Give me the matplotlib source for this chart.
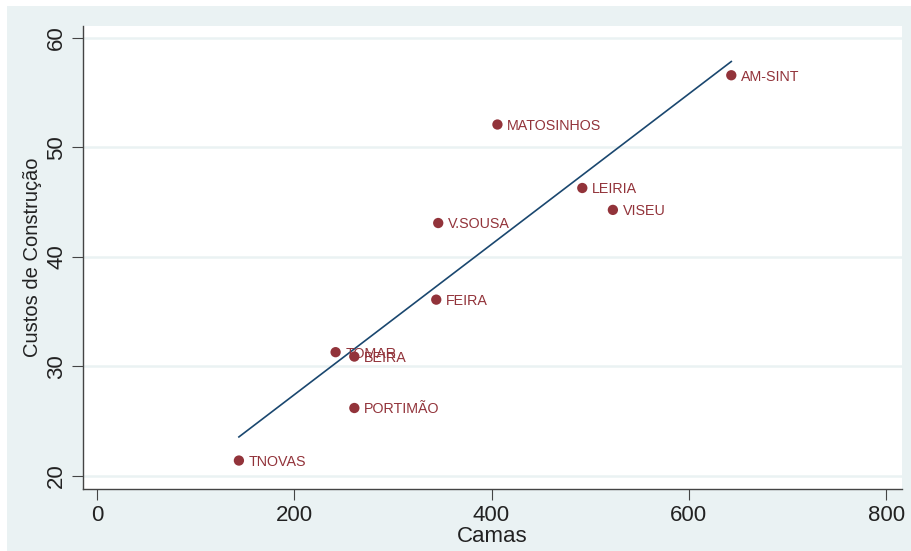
import numpy as np
import matplotlib
matplotlib.use('Agg')
import matplotlib.pyplot as plt
from matplotlib.patches import Rectangle

# Dados
hospitais = ['TNOVAS', 'TOMAR', 'BEIRA', 'PORTIMÃO', 'FEIRA', 'V.SOUSA',
             'MATOSINHOS', 'LEIRIA', 'VISEU', 'AM-SINT']
camas = [144, 242, 261, 261, 344, 346, 406, 492, 523, 643]
custos = [21.4, 31.3, 30.9, 26.2, 36.1, 43.1, 52.1, 46.3, 44.3, 56.6]
xticks = [0, 200, 400, 600, 800]
yticks = [20, 30, 40, 50, 60]

plt.rcParams['font.family'] = ['Liberation Sans', 'DejaVu Sans']

fig = plt.figure(figsize=(9.11, 5.51), dpi=100, facecolor='white')
# fundo cinza-azulado do gráfico (estilo Stata)
fig.patches.append(Rectangle((7 / 911, 0), 1, 1 - 6 / 551, transform=fig.transFigure,
                             facecolor='#eaf2f3', edgecolor='none', zorder=-10))

ax = fig.add_axes([83 / 911, 1 - 489 / 551, (902 - 83) / 911, (489 - 26) / 551])
ax.set_facecolor('white')

# reta de regressão
coef = np.polyfit(camas, custos, 1)
xl = np.array([min(camas), max(camas)])
ax.plot(xl, np.polyval(coef, xl), color='#1a476f', lw=1.2, zorder=2)

ax.scatter(camas, custos, s=55, color='#92333a', zorder=3, edgecolors='none')
for nome, x, y in zip(hospitais, camas, custos):
    ax.annotate(nome, (x, y), xytext=(7, -1), textcoords='offset points',
                fontsize=10.3, color='#92333a', va='center', ha='left', zorder=4)

ax.set_xlim(-14, 816)
ax.set_ylim(18.8, 61.1)
ax.set_xticks(xticks)
ax.set_yticks(yticks)
ax.tick_params(axis='both', labelsize=16, length=8, color='#444444', labelcolor='#222222')
for lab in ax.get_yticklabels():
    lab.set_rotation(90)
    lab.set_va('center')

ax.grid(axis='y', color='#eaf2f3', lw=1.8)
ax.set_axisbelow(True)
for s in ['top', 'right']:
    ax.spines[s].set_visible(False)
for s in ['left', 'bottom']:
    ax.spines[s].set_color('#444444')
    ax.spines[s].set_linewidth(1.0)

ax.set_xlabel('Camas', fontsize=16, labelpad=0, color='#222222')
ax.set_ylabel('Custos de Construção', fontsize=14.5, labelpad=3, color='#222222')

fig.savefig('out.png', dpi=100, facecolor=fig.get_facecolor())
